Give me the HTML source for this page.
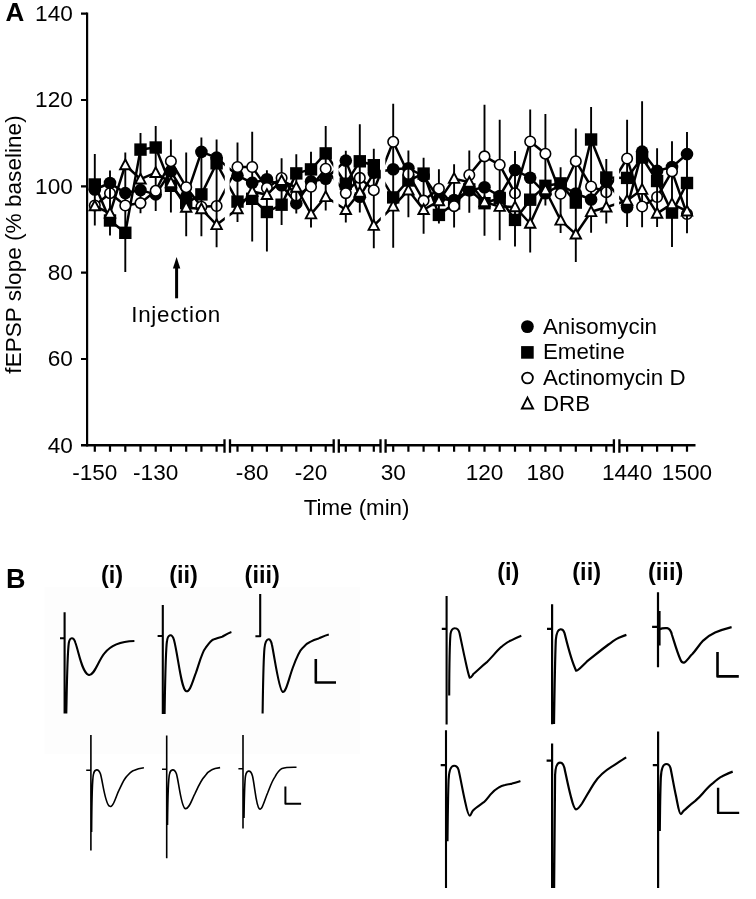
<!DOCTYPE html>
<html><head><meta charset="utf-8"><title>Figure</title>
<style>
html,body{margin:0;padding:0;background:#fff;}
body{width:756px;height:899px;overflow:hidden;}
svg{display:block;will-change:transform;}
text{font-family:"Liberation Sans",sans-serif;fill:#000;}
</style></head>
<body>
<svg width="756" height="899" viewBox="0 0 756 899">
<rect width="756" height="899" fill="#fff"/>
<g>
<path d="M94.8 154.0V225.5M110.0 170.5V235.5M125.3 152.6V272.0M140.5 133.0V213.2M155.7 126.1V211.0M170.9 139.5V212.5M186.2 152.5V236.3M201.4 137.6V236.3M216.6 139.5V247.2M237.5 142.5V222.0M252.2 131.7V241.5M266.9 170.2V251.5M281.6 158.2V225.0M296.3 154.2V213.4M311.0 151.8V227.4M325.7 126.1V210.4M345.8 150.8V222.5M359.8 124.2V212.4M373.8 148.8V248.3M393.2 103.8V247.7M408.4 150.4V217.3M423.6 157.8V233.8M438.9 169.3V223.5M454.1 164.3V227.5M469.3 150.4V212.7M484.5 104.8V235.7M499.7 119.8V240.2M515.0 151.1V246.6M530.2 109.4V252.5M545.4 114.0V205.6M560.6 167.3V233.1M575.8 128.6V262.0M591.1 107.1V232.8M606.3 159.1V223.5M627.1 119.7V226.9M642.1 101.2V227.2M657.1 148.2V227.1M672.0 141.2V247.0M687.0 132.0V233.2" stroke="#000" stroke-width="1.9" fill="none"/>
<polyline points="94.8,189.5 110.0,183.0 125.3,193.1 140.5,190.1 155.7,194.4 170.9,171.3 186.2,196.6 201.4,151.9 216.6,157.6 237.5,175.6 252.2,182.9 266.9,179.3 281.6,185.3 296.3,203.4 311.0,181.4 325.7,178.7 345.8,160.6 359.8,196.7 373.8,172.8 393.2,169.2 408.4,168.3 423.6,176.0 438.9,199.0 454.1,200.0 469.3,190.4 484.5,187.3 499.7,196.0 515.0,170.0 530.2,177.8 545.4,193.3 560.6,185.0 575.8,193.5 591.1,199.5 606.3,181.5 627.1,207.3 642.1,151.6 657.1,170.9 672.0,167.0 687.0,154.1" fill="none" stroke="#000" stroke-width="2.5" stroke-linejoin="round"/>
<circle cx="94.8" cy="189.5" r="6.3"/>
<circle cx="110.0" cy="183.0" r="6.3"/>
<circle cx="125.3" cy="193.1" r="6.3"/>
<circle cx="140.5" cy="190.1" r="6.3"/>
<circle cx="155.7" cy="194.4" r="6.3"/>
<circle cx="170.9" cy="171.3" r="6.3"/>
<circle cx="186.2" cy="196.6" r="6.3"/>
<circle cx="201.4" cy="151.9" r="6.3"/>
<circle cx="216.6" cy="157.6" r="6.3"/>
<circle cx="237.5" cy="175.6" r="6.3"/>
<circle cx="252.2" cy="182.9" r="6.3"/>
<circle cx="266.9" cy="179.3" r="6.3"/>
<circle cx="281.6" cy="185.3" r="6.3"/>
<circle cx="296.3" cy="203.4" r="6.3"/>
<circle cx="311.0" cy="181.4" r="6.3"/>
<circle cx="325.7" cy="178.7" r="6.3"/>
<circle cx="345.8" cy="160.6" r="6.3"/>
<circle cx="359.8" cy="196.7" r="6.3"/>
<circle cx="373.8" cy="172.8" r="6.3"/>
<circle cx="393.2" cy="169.2" r="6.3"/>
<circle cx="408.4" cy="168.3" r="6.3"/>
<circle cx="423.6" cy="176.0" r="6.3"/>
<circle cx="438.9" cy="199.0" r="6.3"/>
<circle cx="454.1" cy="200.0" r="6.3"/>
<circle cx="469.3" cy="190.4" r="6.3"/>
<circle cx="484.5" cy="187.3" r="6.3"/>
<circle cx="499.7" cy="196.0" r="6.3"/>
<circle cx="515.0" cy="170.0" r="6.3"/>
<circle cx="530.2" cy="177.8" r="6.3"/>
<circle cx="545.4" cy="193.3" r="6.3"/>
<circle cx="560.6" cy="185.0" r="6.3"/>
<circle cx="575.8" cy="193.5" r="6.3"/>
<circle cx="591.1" cy="199.5" r="6.3"/>
<circle cx="606.3" cy="181.5" r="6.3"/>
<circle cx="627.1" cy="207.3" r="6.3"/>
<circle cx="642.1" cy="151.6" r="6.3"/>
<circle cx="657.1" cy="170.9" r="6.3"/>
<circle cx="672.0" cy="167.0" r="6.3"/>
<circle cx="687.0" cy="154.1" r="6.3"/>
<polyline points="94.8,184.5 110.0,220.5 125.3,232.8 140.5,149.6 155.7,147.5 170.9,185.8 186.2,203.1 201.4,194.4 216.6,163.3 237.5,201.6 252.2,198.8 266.9,212.0 281.6,204.7 296.3,173.4 311.0,169.4 325.7,153.4 345.8,183.7 359.8,161.3 373.8,165.2 393.2,197.4 408.4,180.5 423.6,173.6 438.9,214.9 454.1,203.5 469.3,189.4 484.5,203.2 499.7,198.0 515.0,219.9 530.2,199.7 545.4,185.8 560.6,183.4 575.8,202.6 591.1,139.5 606.3,177.5 627.1,177.9 642.1,157.5 657.1,181.0 672.0,212.6 687.0,183.0" fill="none" stroke="#000" stroke-width="2.5" stroke-linejoin="round"/>
<rect x="88.6" y="178.3" width="12.4" height="12.4"/>
<rect x="103.8" y="214.3" width="12.4" height="12.4"/>
<rect x="119.1" y="226.6" width="12.4" height="12.4"/>
<rect x="134.3" y="143.4" width="12.4" height="12.4"/>
<rect x="149.5" y="141.3" width="12.4" height="12.4"/>
<rect x="164.8" y="179.6" width="12.4" height="12.4"/>
<rect x="180.0" y="196.9" width="12.4" height="12.4"/>
<rect x="195.2" y="188.2" width="12.4" height="12.4"/>
<rect x="210.4" y="157.1" width="12.4" height="12.4"/>
<rect x="231.3" y="195.4" width="12.4" height="12.4"/>
<rect x="246.0" y="192.6" width="12.4" height="12.4"/>
<rect x="260.7" y="205.8" width="12.4" height="12.4"/>
<rect x="275.4" y="198.5" width="12.4" height="12.4"/>
<rect x="290.1" y="167.2" width="12.4" height="12.4"/>
<rect x="304.8" y="163.2" width="12.4" height="12.4"/>
<rect x="319.5" y="147.2" width="12.4" height="12.4"/>
<rect x="339.6" y="177.5" width="12.4" height="12.4"/>
<rect x="353.6" y="155.1" width="12.4" height="12.4"/>
<rect x="367.6" y="159.0" width="12.4" height="12.4"/>
<rect x="387.0" y="191.2" width="12.4" height="12.4"/>
<rect x="402.2" y="174.3" width="12.4" height="12.4"/>
<rect x="417.4" y="167.4" width="12.4" height="12.4"/>
<rect x="432.7" y="208.7" width="12.4" height="12.4"/>
<rect x="447.9" y="197.3" width="12.4" height="12.4"/>
<rect x="463.1" y="183.2" width="12.4" height="12.4"/>
<rect x="478.3" y="197.0" width="12.4" height="12.4"/>
<rect x="493.5" y="191.8" width="12.4" height="12.4"/>
<rect x="508.8" y="213.7" width="12.4" height="12.4"/>
<rect x="524.0" y="193.5" width="12.4" height="12.4"/>
<rect x="539.2" y="179.6" width="12.4" height="12.4"/>
<rect x="554.4" y="177.2" width="12.4" height="12.4"/>
<rect x="569.6" y="196.4" width="12.4" height="12.4"/>
<rect x="584.9" y="133.3" width="12.4" height="12.4"/>
<rect x="600.1" y="171.3" width="12.4" height="12.4"/>
<rect x="620.9" y="171.7" width="12.4" height="12.4"/>
<rect x="635.9" y="151.3" width="12.4" height="12.4"/>
<rect x="650.9" y="174.8" width="12.4" height="12.4"/>
<rect x="665.8" y="206.4" width="12.4" height="12.4"/>
<rect x="680.8" y="176.8" width="12.4" height="12.4"/>
<polyline points="94.8,205.5 110.0,193.2 125.3,205.5 140.5,203.1 155.7,190.8 170.9,161.2 186.2,187.2 201.4,206.7 216.6,206.0 237.5,167.0 252.2,167.0 266.9,188.0 281.6,178.0 296.3,195.5 311.0,186.8 325.7,168.7 345.8,193.1 359.8,177.9 373.8,190.2 393.2,141.8 408.4,174.0 423.6,200.6 438.9,188.7 454.1,206.1 469.3,175.0 484.5,156.4 499.7,164.8 515.0,193.3 530.2,141.5 545.4,153.7 560.6,193.8 575.8,161.2 591.1,186.5 606.3,192.2 627.1,158.5 642.1,206.5 657.1,197.0 672.0,171.4 687.0,214.0" fill="none" stroke="#000" stroke-width="2.5" stroke-linejoin="round"/>
<circle cx="94.8" cy="205.5" r="5.25" fill="#fff" stroke="#000" stroke-width="1.6"/>
<circle cx="110.0" cy="193.2" r="5.25" fill="#fff" stroke="#000" stroke-width="1.6"/>
<circle cx="125.3" cy="205.5" r="5.25" fill="#fff" stroke="#000" stroke-width="1.6"/>
<circle cx="140.5" cy="203.1" r="5.25" fill="#fff" stroke="#000" stroke-width="1.6"/>
<circle cx="155.7" cy="190.8" r="5.25" fill="#fff" stroke="#000" stroke-width="1.6"/>
<circle cx="170.9" cy="161.2" r="5.25" fill="#fff" stroke="#000" stroke-width="1.6"/>
<circle cx="186.2" cy="187.2" r="5.25" fill="#fff" stroke="#000" stroke-width="1.6"/>
<circle cx="201.4" cy="206.7" r="5.25" fill="#fff" stroke="#000" stroke-width="1.6"/>
<circle cx="216.6" cy="206.0" r="5.25" fill="#fff" stroke="#000" stroke-width="1.6"/>
<circle cx="237.5" cy="167.0" r="5.25" fill="#fff" stroke="#000" stroke-width="1.6"/>
<circle cx="252.2" cy="167.0" r="5.25" fill="#fff" stroke="#000" stroke-width="1.6"/>
<circle cx="266.9" cy="188.0" r="5.25" fill="#fff" stroke="#000" stroke-width="1.6"/>
<circle cx="281.6" cy="178.0" r="5.25" fill="#fff" stroke="#000" stroke-width="1.6"/>
<circle cx="296.3" cy="195.5" r="5.25" fill="#fff" stroke="#000" stroke-width="1.6"/>
<circle cx="311.0" cy="186.8" r="5.25" fill="#fff" stroke="#000" stroke-width="1.6"/>
<circle cx="325.7" cy="168.7" r="5.25" fill="#fff" stroke="#000" stroke-width="1.6"/>
<circle cx="345.8" cy="193.1" r="5.25" fill="#fff" stroke="#000" stroke-width="1.6"/>
<circle cx="359.8" cy="177.9" r="5.25" fill="#fff" stroke="#000" stroke-width="1.6"/>
<circle cx="373.8" cy="190.2" r="5.25" fill="#fff" stroke="#000" stroke-width="1.6"/>
<circle cx="393.2" cy="141.8" r="5.25" fill="#fff" stroke="#000" stroke-width="1.6"/>
<circle cx="408.4" cy="174.0" r="5.25" fill="#fff" stroke="#000" stroke-width="1.6"/>
<circle cx="423.6" cy="200.6" r="5.25" fill="#fff" stroke="#000" stroke-width="1.6"/>
<circle cx="438.9" cy="188.7" r="5.25" fill="#fff" stroke="#000" stroke-width="1.6"/>
<circle cx="454.1" cy="206.1" r="5.25" fill="#fff" stroke="#000" stroke-width="1.6"/>
<circle cx="469.3" cy="175.0" r="5.25" fill="#fff" stroke="#000" stroke-width="1.6"/>
<circle cx="484.5" cy="156.4" r="5.25" fill="#fff" stroke="#000" stroke-width="1.6"/>
<circle cx="499.7" cy="164.8" r="5.25" fill="#fff" stroke="#000" stroke-width="1.6"/>
<circle cx="515.0" cy="193.3" r="5.25" fill="#fff" stroke="#000" stroke-width="1.6"/>
<circle cx="530.2" cy="141.5" r="5.25" fill="#fff" stroke="#000" stroke-width="1.6"/>
<circle cx="545.4" cy="153.7" r="5.25" fill="#fff" stroke="#000" stroke-width="1.6"/>
<circle cx="560.6" cy="193.8" r="5.25" fill="#fff" stroke="#000" stroke-width="1.6"/>
<circle cx="575.8" cy="161.2" r="5.25" fill="#fff" stroke="#000" stroke-width="1.6"/>
<circle cx="591.1" cy="186.5" r="5.25" fill="#fff" stroke="#000" stroke-width="1.6"/>
<circle cx="606.3" cy="192.2" r="5.25" fill="#fff" stroke="#000" stroke-width="1.6"/>
<circle cx="627.1" cy="158.5" r="5.25" fill="#fff" stroke="#000" stroke-width="1.6"/>
<circle cx="642.1" cy="206.5" r="5.25" fill="#fff" stroke="#000" stroke-width="1.6"/>
<circle cx="657.1" cy="197.0" r="5.25" fill="#fff" stroke="#000" stroke-width="1.6"/>
<circle cx="672.0" cy="171.4" r="5.25" fill="#fff" stroke="#000" stroke-width="1.6"/>
<circle cx="687.0" cy="214.0" r="5.25" fill="#fff" stroke="#000" stroke-width="1.6"/>
<path d="M110.0 187.8V198.6M216.6 200.6V211.4M296.3 190.1V200.9M359.8 172.5V183.3M408.4 168.6V179.4M515.0 187.9V198.7M606.3 186.8V197.6M657.1 191.6V202.4M687.0 208.6V219.4" stroke="#000" stroke-width="1.9"/>
<polyline points="94.8,206.0 110.0,213.3 125.3,165.0 140.5,179.2 155.7,172.7 170.9,182.9 186.2,207.4 201.4,208.9 216.6,224.8 237.5,208.9 252.2,191.5 266.9,194.7 281.6,180.7 296.3,187.5 311.0,214.1 325.7,196.8 345.8,209.7 359.8,192.4 373.8,225.6 393.2,206.3 408.4,190.2 423.6,209.7 438.9,201.0 454.1,178.6 469.3,182.3 484.5,202.0 499.7,206.6 515.0,207.0 530.2,223.5 545.4,190.0 560.6,220.3 575.8,234.2 591.1,211.8 606.3,207.2 627.1,200.5 642.1,189.6 657.1,213.4 672.0,203.9 687.0,211.2" fill="none" stroke="#000" stroke-width="2.5" stroke-linejoin="round"/>
<path d="M94.8 200.5L100.0 210.3L89.6 210.3Z" fill="#fff" stroke="#000" stroke-width="1.9" stroke-linejoin="miter"/>
<path d="M110.0 207.8L115.2 217.6L104.8 217.6Z" fill="#fff" stroke="#000" stroke-width="1.9" stroke-linejoin="miter"/>
<path d="M125.3 159.5L130.5 169.3L120.1 169.3Z" fill="#fff" stroke="#000" stroke-width="1.9" stroke-linejoin="miter"/>
<path d="M140.5 173.7L145.7 183.5L135.3 183.5Z" fill="#fff" stroke="#000" stroke-width="1.9" stroke-linejoin="miter"/>
<path d="M155.7 167.2L160.9 177.0L150.5 177.0Z" fill="#fff" stroke="#000" stroke-width="1.9" stroke-linejoin="miter"/>
<path d="M170.9 177.4L176.1 187.2L165.8 187.2Z" fill="#fff" stroke="#000" stroke-width="1.9" stroke-linejoin="miter"/>
<path d="M186.2 201.9L191.4 211.7L181.0 211.7Z" fill="#fff" stroke="#000" stroke-width="1.9" stroke-linejoin="miter"/>
<path d="M201.4 203.4L206.6 213.2L196.2 213.2Z" fill="#fff" stroke="#000" stroke-width="1.9" stroke-linejoin="miter"/>
<path d="M216.6 219.3L221.8 229.1L211.4 229.1Z" fill="#fff" stroke="#000" stroke-width="1.9" stroke-linejoin="miter"/>
<path d="M237.5 203.4L242.7 213.2L232.3 213.2Z" fill="#fff" stroke="#000" stroke-width="1.9" stroke-linejoin="miter"/>
<path d="M252.2 186.0L257.4 195.8L247.0 195.8Z" fill="#fff" stroke="#000" stroke-width="1.9" stroke-linejoin="miter"/>
<path d="M266.9 189.2L272.1 199.0L261.7 199.0Z" fill="#fff" stroke="#000" stroke-width="1.9" stroke-linejoin="miter"/>
<path d="M281.6 175.2L286.8 185.0L276.4 185.0Z" fill="#fff" stroke="#000" stroke-width="1.9" stroke-linejoin="miter"/>
<path d="M296.3 182.0L301.5 191.8L291.1 191.8Z" fill="#fff" stroke="#000" stroke-width="1.9" stroke-linejoin="miter"/>
<path d="M311.0 208.6L316.2 218.4L305.8 218.4Z" fill="#fff" stroke="#000" stroke-width="1.9" stroke-linejoin="miter"/>
<path d="M325.7 191.3L330.9 201.1L320.5 201.1Z" fill="#fff" stroke="#000" stroke-width="1.9" stroke-linejoin="miter"/>
<path d="M345.8 204.2L351.0 214.0L340.6 214.0Z" fill="#fff" stroke="#000" stroke-width="1.9" stroke-linejoin="miter"/>
<path d="M359.8 186.9L365.0 196.7L354.6 196.7Z" fill="#fff" stroke="#000" stroke-width="1.9" stroke-linejoin="miter"/>
<path d="M373.8 220.1L379.0 229.9L368.6 229.9Z" fill="#fff" stroke="#000" stroke-width="1.9" stroke-linejoin="miter"/>
<path d="M393.2 200.8L398.4 210.6L388.0 210.6Z" fill="#fff" stroke="#000" stroke-width="1.9" stroke-linejoin="miter"/>
<path d="M408.4 184.7L413.6 194.5L403.2 194.5Z" fill="#fff" stroke="#000" stroke-width="1.9" stroke-linejoin="miter"/>
<path d="M423.6 204.2L428.8 214.0L418.4 214.0Z" fill="#fff" stroke="#000" stroke-width="1.9" stroke-linejoin="miter"/>
<path d="M438.9 195.5L444.1 205.3L433.7 205.3Z" fill="#fff" stroke="#000" stroke-width="1.9" stroke-linejoin="miter"/>
<path d="M454.1 173.1L459.3 182.9L448.9 182.9Z" fill="#fff" stroke="#000" stroke-width="1.9" stroke-linejoin="miter"/>
<path d="M469.3 176.8L474.5 186.6L464.1 186.6Z" fill="#fff" stroke="#000" stroke-width="1.9" stroke-linejoin="miter"/>
<path d="M484.5 196.5L489.7 206.3L479.3 206.3Z" fill="#fff" stroke="#000" stroke-width="1.9" stroke-linejoin="miter"/>
<path d="M499.7 201.1L504.9 210.9L494.5 210.9Z" fill="#fff" stroke="#000" stroke-width="1.9" stroke-linejoin="miter"/>
<path d="M515.0 201.5L520.2 211.3L509.8 211.3Z" fill="#fff" stroke="#000" stroke-width="1.9" stroke-linejoin="miter"/>
<path d="M530.2 218.0L535.4 227.8L525.0 227.8Z" fill="#fff" stroke="#000" stroke-width="1.9" stroke-linejoin="miter"/>
<path d="M545.4 184.5L550.6 194.3L540.2 194.3Z" fill="#fff" stroke="#000" stroke-width="1.9" stroke-linejoin="miter"/>
<path d="M560.6 214.8L565.8 224.6L555.4 224.6Z" fill="#fff" stroke="#000" stroke-width="1.9" stroke-linejoin="miter"/>
<path d="M575.8 228.7L581.0 238.5L570.6 238.5Z" fill="#fff" stroke="#000" stroke-width="1.9" stroke-linejoin="miter"/>
<path d="M591.1 206.3L596.3 216.1L585.9 216.1Z" fill="#fff" stroke="#000" stroke-width="1.9" stroke-linejoin="miter"/>
<path d="M606.3 201.7L611.5 211.5L601.1 211.5Z" fill="#fff" stroke="#000" stroke-width="1.9" stroke-linejoin="miter"/>
<path d="M627.1 195.0L632.3 204.8L621.9 204.8Z" fill="#fff" stroke="#000" stroke-width="1.9" stroke-linejoin="miter"/>
<path d="M642.1 184.1L647.3 193.9L636.9 193.9Z" fill="#fff" stroke="#000" stroke-width="1.9" stroke-linejoin="miter"/>
<path d="M657.1 207.9L662.3 217.7L651.9 217.7Z" fill="#fff" stroke="#000" stroke-width="1.9" stroke-linejoin="miter"/>
<path d="M672.0 198.4L677.2 208.2L666.8 208.2Z" fill="#fff" stroke="#000" stroke-width="1.9" stroke-linejoin="miter"/>
<path d="M687.0 205.7L692.2 215.5L681.8 215.5Z" fill="#fff" stroke="#000" stroke-width="1.9" stroke-linejoin="miter"/>
<rect x="224.8" y="0" width="4.8" height="442" fill="#fff"/>
<rect x="333.3" y="0" width="5.3" height="442" fill="#fff"/>
<rect x="380.8" y="0" width="4.5" height="442" fill="#fff"/>
<rect x="614.2" y="0" width="4.9" height="442" fill="#fff"/>
</g>
<g>
<path d="M87.1 12.5V446.5" stroke="#000" stroke-width="2.2" fill="none"/>
<path d="M81 13.65H87M81 99.98H87M81 186.3H87M81 272.6H87M81 359.0H87" stroke="#000" stroke-width="2.2"/>
<path d="M81 445.3H224.5M230 445.3H333.7M338.8 445.3H380.5M385.6 445.3H613.9M619.4 445.3H695.5" stroke="#000" stroke-width="2.5"/>
<path d="M94.8 445.3V451.8M110.0 445.3V451.8M125.3 445.3V451.8M140.5 445.3V451.8M155.7 445.3V451.8M170.9 445.3V451.8M186.2 445.3V451.8M201.4 445.3V451.8M216.6 445.3V451.8M237.5 445.3V451.8M252.2 445.3V451.8M266.9 445.3V451.8M281.6 445.3V451.8M296.3 445.3V451.8M311.0 445.3V451.8M325.7 445.3V451.8M345.8 445.3V451.8M359.8 445.3V451.8M373.8 445.3V451.8M393.2 445.3V451.8M408.4 445.3V451.8M423.6 445.3V451.8M438.9 445.3V451.8M454.1 445.3V451.8M469.3 445.3V451.8M484.5 445.3V451.8M499.7 445.3V451.8M515.0 445.3V451.8M530.2 445.3V451.8M545.4 445.3V451.8M560.6 445.3V451.8M575.8 445.3V451.8M591.1 445.3V451.8M606.3 445.3V451.8M627.1 445.3V451.8M642.1 445.3V451.8M657.1 445.3V451.8M672.0 445.3V451.8M687.0 445.3V451.8" stroke="#000" stroke-width="2.2"/>
<path d="M224.5 439.2V452.7M230 439.2V452.7M333.7 439.2V452.7M338.8 439.2V452.7M380.5 439.2V452.7M385.6 439.2V452.7M613.9 439.2V452.7M619.4 439.2V452.7" stroke="#000" stroke-width="2.3"/>
</g>
<g>
<circle cx="527.4" cy="326.6" r="6.4"/>
<rect x="521.1" y="346.1" width="12.6" height="12.6"/>
<circle cx="527.5" cy="378" r="5.4" fill="#fff" stroke="#000" stroke-width="1.8"/>
<path d="M527.5 397.6L533.1 408.5L521.9 408.5Z" fill="#fff" stroke="#000" stroke-width="1.9"/>
<path d="M176.6 298.3V266" stroke="#000" stroke-width="3"/>
<path d="M176.6 257L180.3 268.5L172.9 268.5Z"/>
</g>
<g>
<text x="72.8" y="20.9" text-anchor="end" font-size="22.6">140</text>
<text x="72.8" y="107.3" text-anchor="end" font-size="22.6">120</text>
<text x="72.8" y="193.6" text-anchor="end" font-size="22.6">100</text>
<text x="72.8" y="279.9" text-anchor="end" font-size="22.6">80</text>
<text x="72.8" y="366.3" text-anchor="end" font-size="22.6">60</text>
<text x="72.8" y="452.6" text-anchor="end" font-size="22.6">40</text>
<text x="94.8" y="480.2" text-anchor="middle" font-size="22.6">-150</text>
<text x="155.7" y="480.2" text-anchor="middle" font-size="22.6">-130</text>
<text x="252.2" y="480.2" text-anchor="middle" font-size="22.6">-80</text>
<text x="311.0" y="480.2" text-anchor="middle" font-size="22.6">-20</text>
<text x="393.2" y="480.2" text-anchor="middle" font-size="22.6">30</text>
<text x="484.5" y="480.2" text-anchor="middle" font-size="22.6">120</text>
<text x="545.4" y="480.2" text-anchor="middle" font-size="22.6">180</text>
<text x="627.1" y="480.2" text-anchor="middle" font-size="22.6">1440</text>
<text x="687.0" y="480.2" text-anchor="middle" font-size="22.6">1500</text>
<text x="356.6" y="515" text-anchor="middle" font-size="22.3">Time (min)</text>
<text transform="translate(21.4 244.5) rotate(-90)" text-anchor="middle" font-size="22.6">fEPSP slope (% baseline)</text>
<text x="131.3" y="322" font-size="22.4" letter-spacing="0.7">Injection</text>
<text x="5.5" y="21.2" font-size="26" font-weight="bold">A</text>
<text x="543" y="333.5" font-size="22.3">Anisomycin</text>
<text x="543" y="359" font-size="22.3">Emetine</text>
<text x="543" y="385.1" font-size="22.3">Actinomycin D</text>
<text x="543" y="410.5" font-size="22.3">DRB</text>
</g>
<g>
<rect x="44.5" y="587" width="315.5" height="166.7" fill="#fdfdfd"/>
<text x="6" y="588.2" font-size="27" font-weight="bold">B</text>
<text x="101" y="582.8" font-size="23.5" font-weight="bold">(i)</text>
<text x="169.2" y="582.8" font-size="23.5" font-weight="bold">(ii)</text>
<text x="244.6" y="582.8" font-size="23.5" font-weight="bold">(iii)</text>
<text x="497.2" y="579.6" font-size="23.5" font-weight="bold">(i)</text>
<text x="572.3" y="579.6" font-size="23.5" font-weight="bold">(ii)</text>
<text x="648" y="579.6" font-size="23.5" font-weight="bold">(iii)</text>
<path d="M64.6 612.3V713.5M60 638.3H64.6M66.3 713.5C66.8 690 67.2 655 68.8 643C69.8 637 73.5 636.5 75.5 643C79 653 82 672 88.4 674.8C94 677 98 661 104.4 653.4C110 646 118 641.5 134.4 641" fill="none" stroke="#000" stroke-width="2.1" stroke-linejoin="round"/>
<path d="M162.8 605V713.9M157.6 636H162.8M164.6 713.9C165 690 165.5 650 167 641C168 634 172 633 174 640C178 655 181 688 185.9 691C190 693 193 680 195.9 672.9C199 664 202 652 205.6 647.9C209 643 211 640 214 639.2C218 638 220 637 222.3 636.7C225 635 228 633 231.4 631.9" fill="none" stroke="#000" stroke-width="2.1" stroke-linejoin="round"/>
<path d="M260.2 594V636.2H255.4M262.6 713.6C263 690 263.3 660 264.5 648C265.5 638 270.5 636 272 645C275 660 279 690 282.6 691.9C286 693 289 678 292.7 668C296 659 299 651 302.8 647.8C305 645 307 643 310 642C313 640 316 639 318.7 638.4C322 637 325 635.5 328.8 634.5" fill="none" stroke="#000" stroke-width="2.1" stroke-linejoin="round"/>
<path d="M315.8 659.1V682.5H336" fill="none" stroke="#000" stroke-width="2.6" stroke-linejoin="round"/>
<path d="M90.9 735.1V850.4M86.2 770.2H90.9M91.6 832C91.8 800 92 780 93.5 774C94.5 769 98.5 768 100.5 774C103 783 105 803 109.3 806C113 809 116 796 118.9 790.4C122 784 124 779 126.7 776.4C129 774 131 771 134.5 770.2C137 769 140 768.3 143.9 767.8" fill="none" stroke="#000" stroke-width="1.6" stroke-linejoin="round"/>
<path d="M166.7 735.4V858.2M162 769.2H166.7M167.5 825C167.8 800 168 780 169.5 774C170.5 769 174.5 768 176.5 774C179 783 181 806 185 808.5C189 810 192 799 195.1 793.4C198 787 201 780 205.1 775.9C207 773 209 771 211.8 769.7C214 768.5 217 768 220.1 767.6" fill="none" stroke="#000" stroke-width="1.6" stroke-linejoin="round"/>
<path d="M243 735.1V828.4M238.4 768.7H243M244 818C244.3 800 244.5 782 245.5 776C246.5 770 250.5 769 252.5 776C255 787 256 806 259.4 808.9C262 811 265 799 267.6 793C270 787 272 781 274.8 777.1C277 773 279 770 282.1 768.4C286 767 290 767.2 296.5 767.2" fill="none" stroke="#000" stroke-width="1.6" stroke-linejoin="round"/>
<path d="M285.4 786.5V803.8H301.1" fill="none" stroke="#000" stroke-width="2.0" stroke-linejoin="round"/>
<path d="M446.6 596V724.5M441.8 628.9H446.6M449.2 695.5C449.3 670 449.5 645 450.5 634C451.2 629 453 628 455.2 628.2C457 628.3 458.5 629 459.5 633C461 640 462.5 647 464 654.4C466 663 468 674 469.7 677.7C471 678 472 676 473.7 673.7C478 670 482 666 486.6 662.4C492 657 496 652 501.1 647.1C505 644 507 642 510.8 640.6C514 639 517 637.5 521.3 635.8" fill="none" stroke="#000" stroke-width="2.1" stroke-linejoin="round"/>
<path d="M552.1 604.3V724.3M547 628.9H552.1M554 724C554.5 690 555 660 555.8 640C556.5 632 558 629.5 560.2 629.3C562.5 629 563.5 630 564.5 633C567 643 571 660 576.1 670.7C578 671 582 666 586.7 661.7C594 656 601 650 608.5 644.5C612 642 615 639.5 617.9 638.3C621 637 623 636 626.4 634.9" fill="none" stroke="#000" stroke-width="2.2" stroke-linejoin="round"/>
<path d="M658 592.3V667.3M652.1 626.8H658M659.5 611V645.6M659.8 629.3C661 628.5 664 628 667.2 628.2C669.5 628.6 671 631 672 635C674 641 677 652 680.6 660C681.5 662 682.5 662.8 684 662.6C686.5 662 689 657 692.6 653.8C696 650 699 645 703.2 640.6C707 637 711 634.5 715.1 632.6C720 630.5 726 628.5 731.6 627.1" fill="none" stroke="#000" stroke-width="2.2" stroke-linejoin="round"/>
<path d="M717.5 652V676.4H738.8" fill="none" stroke="#000" stroke-width="2.6" stroke-linejoin="round"/>
<path d="M446 730.3V888M440.7 765.1H446M447.5 841.3C447.8 815 448 795 448.6 780C449 770 451 765.7 454.1 765.7C456.5 765.7 457.8 767 458.6 770C460.5 778 462.5 790 465 801C466.5 808 468 815.7 469.8 815.7C471 815.7 471.5 812 473 810.5C476 807.5 480 805 483.9 802.2C486.5 800 488.5 797 490.6 794.4C493.5 791 496 789 498.5 787.6C501 786 503 785.4 505 785C508 784.3 510 784 512 783.6C515 782.8 517.5 782 520.4 781.1" fill="none" stroke="#000" stroke-width="2.1" stroke-linejoin="round"/>
<path d="M552.1 743.4V887.9M546.6 760.7H552.1M554.1 887.9C554.4 840 554.8 800 555.1 775C555.5 766 557 762.7 560 762.7C562.5 762.7 563.5 764.5 564.3 767.5C566 775 568.5 788 571 797C572.5 803 574 809.3 576 809.3C578 809.3 580 806.5 582 803.5C586 797 590 789.5 594.4 782.8C598 777.5 603 772 611.4 766.9C616 764 621 760.5 626.2 757.4" fill="none" stroke="#000" stroke-width="2.2" stroke-linejoin="round"/>
<path d="M658.1 731.5V888M652.8 765.1H658.1M659.8 830.9C660 810 660.3 790 660.8 778C661.2 769 663 764 666.3 764C668.5 764 669.8 765.5 670.5 768C672 775 674 787 676 796C677.5 803 679 814.1 680.9 814.1C682 814.1 682.5 811.5 684 810.5C688 807 691 804 695 801.1C698 798.5 700.5 796 702.9 793.2C706 789.5 709 786 713 783.1C716 780.5 719 778 722 776.4C726 774.5 729 773 732.7 771.6" fill="none" stroke="#000" stroke-width="2.2" stroke-linejoin="round"/>
<path d="M718.1 787.8V812.9H739.2" fill="none" stroke="#000" stroke-width="2.4" stroke-linejoin="round"/>
</g>
</svg>
</body></html>
